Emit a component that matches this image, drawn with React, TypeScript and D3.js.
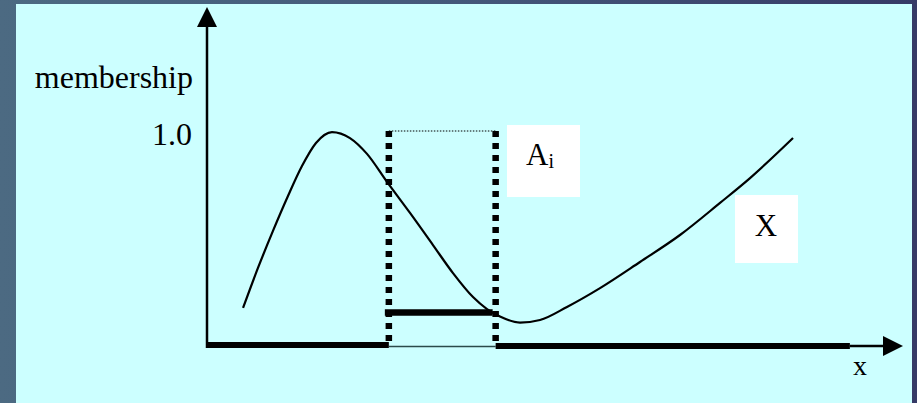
import React from "react";
import * as d3 from "d3";

// membership curve (x in universe units 0..100, membership 0..1)
const curveX = [5.33, 7.54, 9.76, 11.98, 14.05, 16.12, 18.49, 21.15, 23.67, 26.63, 30.03, 33.43, 36.39, 39.35, 41.42, 43.34, 46.3, 49.26, 53.25, 58.14, 64.05, 69.97, 75.89, 80.33, 86.69];
const curveM = [0.173, 0.36, 0.533, 0.696, 0.836, 0.944, 0.995, 0.967, 0.893, 0.762, 0.617, 0.467, 0.336, 0.224, 0.168, 0.133, 0.105, 0.117, 0.178, 0.266, 0.388, 0.514, 0.664, 0.78, 0.967];
// interval A_i
const intervalA = [26.9, 42.7];
const alphaCut = 0.152;
const thickAxisEnd = 95.1;
const yTickLabels = ["1.0"];
const yTickValues = [1.0];

const W = 917, H = 403;

export default function App() {
  const x = d3.scaleLinear().domain([0, 100]).range([207, 883]);
  const y = d3.scaleLinear().domain([0, 1]).range([345, 131]);
  const pts: [number, number][] = curveX.map((v, i) => [v, curveM[i]]);
  const line = d3.line<[number, number]>().x(d => x(d[0])).y(d => y(d[1])).curve(d3.curveMonotoneX);
  const font = "'Liberation Serif', 'Times New Roman', serif";
  const x0 = x(0), y0 = y(0);
  const a = x(intervalA[0]), b = x(intervalA[1]);
  return (
    <svg width={W} height={H} style={{ position: "absolute", left: 0, top: 0, display: "block" }}>
      <defs>
        <linearGradient id="bg" x1="0" y1="0" x2="1" y2="0">
          <stop offset="0" stopColor="#4c6a82" />
          <stop offset="0.5" stopColor="#44587a" />
          <stop offset="1" stopColor="#363a66" />
        </linearGradient>
      </defs>
      <rect x={0} y={0} width={W} height={H} fill="url(#bg)" />
      <rect x={16} y={4} width={896} height={H - 4} fill="#ccffff" />
      {/* y axis */}
      <line x1={x0} x2={x0} y1={y0 + 3} y2={26} stroke="#000" strokeWidth={2.5} />
      <path d={`M${x0},7 L${x0 - 10},27 L${x0 + 10},27 Z`} fill="#000" />
      {/* x axis */}
      <line x1={x0} x2={a} y1={y0} y2={y0} stroke="#000" strokeWidth={6} />
      <line x1={a} x2={b} y1={y0 + 1.5} y2={y0 + 1.5} stroke="#2a4a4a" strokeWidth={1.5} />
      <line x1={b} x2={x(thickAxisEnd)} y1={y0 + 1} y2={y0 + 1} stroke="#000" strokeWidth={6} />
      <line x1={x(thickAxisEnd)} x2={884} y1={y0 + 1} y2={y0 + 1} stroke="#000" strokeWidth={2.5} />
      <path d={`M903,${y0 + 1} L883,${y0 - 9} L883,${y0 + 11} Z`} fill="#000" />
      {/* membership curve */}
      <path d={line(pts) || ""} fill="none" stroke="#000" strokeWidth={2.2} />
      {/* interval box */}
      <line x1={a} x2={b} y1={y(1)} y2={y(1)} stroke="#000" strokeWidth={1} strokeDasharray="1.5,1.5" />
      <line x1={a} x2={a} y1={y(1)} y2={y0 + 2} stroke="#000" strokeWidth={6.5} strokeDasharray="6,6" />
      <line x1={b} x2={b} y1={y(1)} y2={y0 + 2} stroke="#000" strokeWidth={6.5} strokeDasharray="6,6" />
      <line x1={a - 4} x2={b - 3} y1={y(alphaCut)} y2={y(alphaCut)} stroke="#000" strokeWidth={6.5} />
      {/* labels */}
      <text x={193} y={88} textAnchor="end" fontFamily={font} fontSize={32} fill="#000">membership</text>
      {yTickValues.map((v, i) => (
        <text key={i} x={192} y={y(v) + 14} textAnchor="end" fontFamily={font} fontSize={32} fill="#000">{yTickLabels[i]}</text>
      ))}
      <text x={860} y={375} textAnchor="middle" fontFamily={font} fontSize={28} fill="#000">x</text>
      <rect x={507} y={125} width={73} height={72} fill="#ffffff" />
      <text x={526} y={165} fontFamily={font} fontSize={31} fill="#000">A<tspan fontSize={20} dy={3}>i</tspan></text>
      <rect x={735} y={195} width={63} height={68} fill="#ffffff" />
      <text x={766} y={236} textAnchor="middle" fontFamily={font} fontSize={31} fill="#000">X</text>
    </svg>
  );
}
